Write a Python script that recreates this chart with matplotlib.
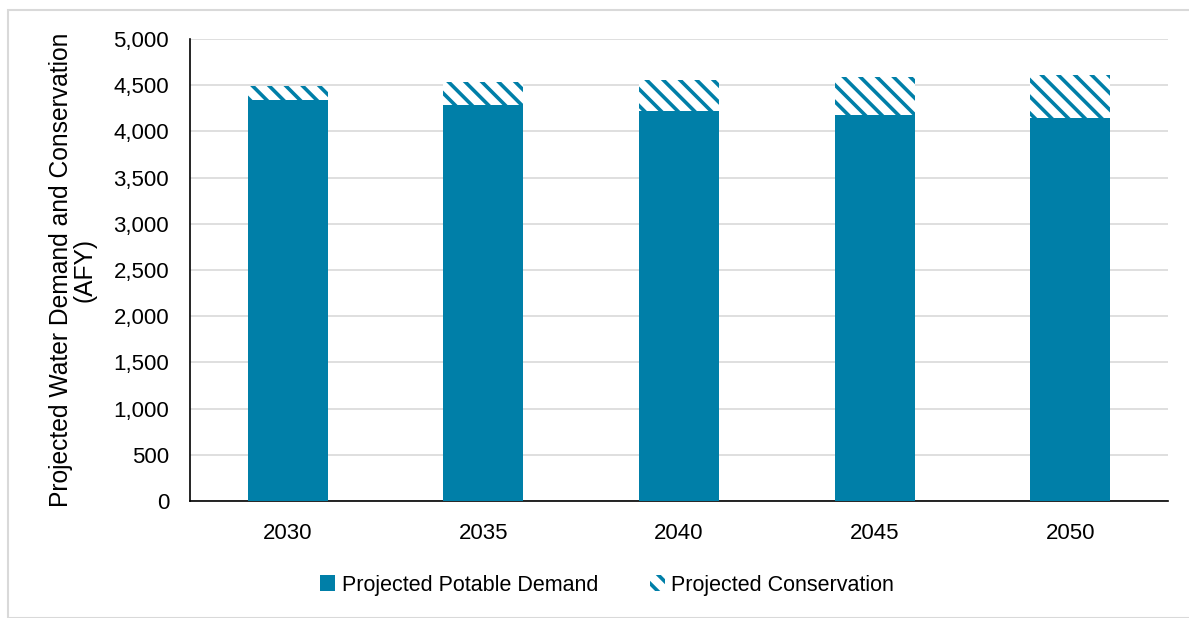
import matplotlib.pyplot as plt
from matplotlib.patches import Rectangle

plt.rcParams['font.family'] = ['Liberation Sans', 'DejaVu Sans']
plt.rcParams['hatch.linewidth'] = 2.6

# Data (AFY)
years = ['2030', '2035', '2040', '2045', '2050']
potable_demand = [4345, 4285, 4220, 4180, 4145]
conservation = [145, 255, 340, 405, 460]

teal = '#007FA8'

fig = plt.figure(figsize=(11.89, 6.18), dpi=100)
ax = fig.add_axes([190/1189, 1 - 501/618, 978/1189, 462/618])

x = range(len(years))
ax.bar(x, potable_demand, width=0.41, color=teal, label='Projected Potable Demand', zorder=3)
ax.bar(x, conservation, width=0.41, bottom=potable_demand, facecolor='white',
       edgecolor=teal, hatch='\\\\', linewidth=0, label='Projected Conservation', zorder=3)

ax.set_xlim(-0.5, len(years) - 0.5)
ax.set_ylim(0, 5000)
ax.set_yticks(range(0, 5001, 500))
ax.set_yticklabels([f'{v:,}' for v in range(0, 5001, 500)])
ax.set_xticks(list(x))
ax.set_xticklabels(years)
ax.tick_params(axis='both', length=0, labelsize=16, colors='black')
ax.tick_params(axis='y', pad=15)
ax.tick_params(axis='x', pad=16)
ax.yaxis.grid(True, color='#D9D9D9', linewidth=1.2, zorder=0)
ax.set_axisbelow(True)
for s in ['top', 'right']:
    ax.spines[s].set_visible(False)
for s in ['left', 'bottom']:
    ax.spines[s].set_color('black')
    ax.spines[s].set_linewidth(1.2)

ax.set_ylabel('Projected Water Demand and Conservation\n(AFY)', fontsize=17.7, labelpad=12,
              linespacing=1.0)

fig.legend(loc='center', bbox_to_anchor=(607/1189, 1 - 585/618), ncol=2, frameon=False,
           fontsize=15.5, handlelength=0.7, handleheight=0.7, handletextpad=0.3,
           columnspacing=2.4)

fig.patches.append(Rectangle((8/1189, 0), 1, 1 - 10/618, transform=fig.transFigure,
                             fill=False, edgecolor='#D9D9D9', linewidth=1.5))

fig.savefig('out.png', dpi=100)
